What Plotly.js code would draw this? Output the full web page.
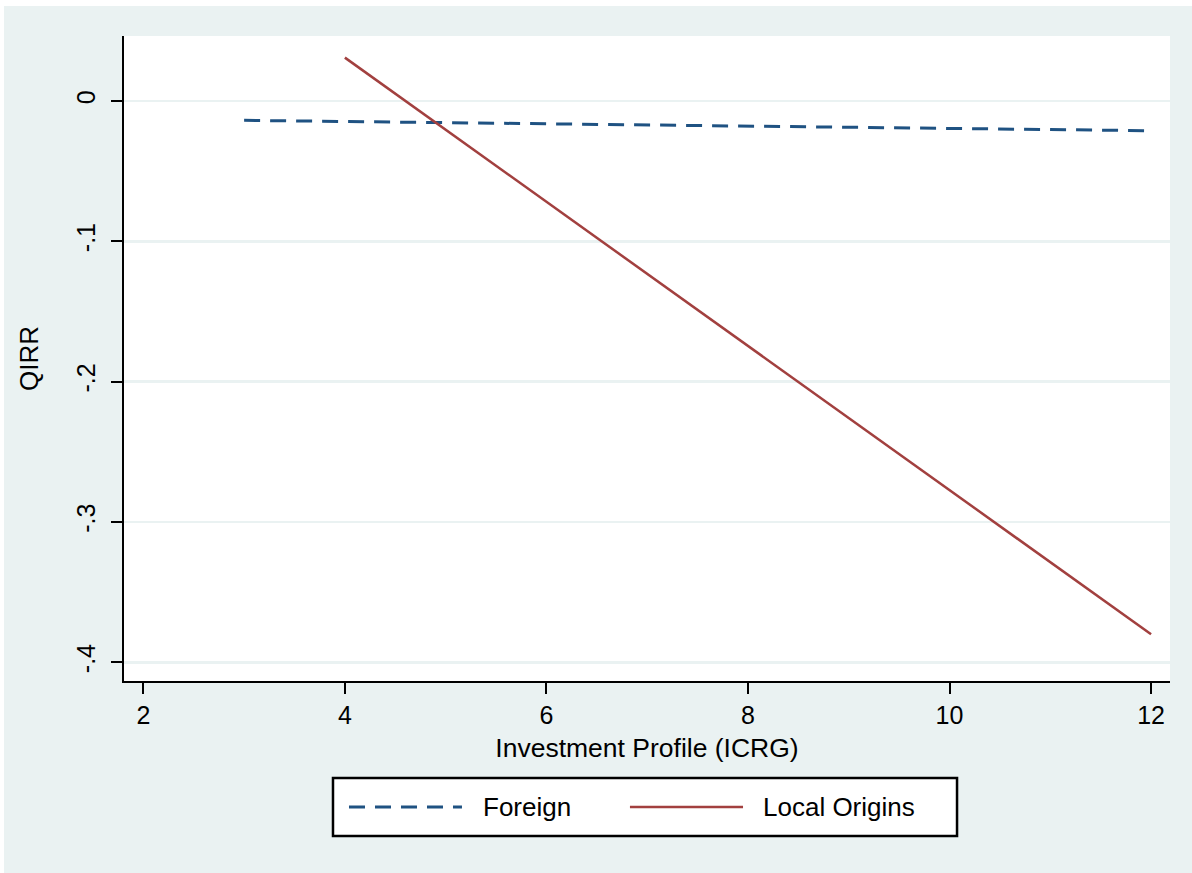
<!DOCTYPE html>
<html>
<head>
<meta charset="utf-8">
<script src="https://cdn.plot.ly/plotly-3.0.1.min.js"></script>
<style>
  html, body { margin: 0; padding: 0; background: #ffffff; width: 1192px; height: 873px; overflow: hidden; }
  #chart { position: absolute; left: 4px; top: 6px; width: 1188px; height: 867px; }
</style>
</head>
<body>
<div id="chart"></div>
<script>
// Data
const seriesNames = ["Foreign", "Local Origins"];
const foreignX = [3, 12];
const foreignY = [-0.0138, -0.0212];
const localX = [4, 12];
const localY = [0.0309, -0.380];

const xTickVals = [2, 4, 6, 8, 10, 12];
const xTickText = ["2", "4", "6", "8", "10", "12"];
const yTickVals = [0, -0.1, -0.2, -0.3, -0.4];
const yTickText = ["0", "-.1", "-.2", "-.3", "-.4"];

const xTitle = "Investment Profile (ICRG)";
const yTitle = "QIRR";

const colForeign = "#1f5282";
const colLocal = "#a2403f";
const bg = "#eaf2f2";
const FONT = "Liberation Sans, Arial, Helvetica, sans-serif";

const traces = [
  { x: foreignX, y: foreignY, type: "scatter", mode: "lines", name: seriesNames[0],
    line: { color: colForeign, width: 3, dash: "16px,10px" }, showlegend: false, hoverinfo: "skip" },
  { x: localX, y: localY, type: "scatter", mode: "lines", name: seriesNames[1],
    line: { color: colLocal, width: 2.5 }, showlegend: false, hoverinfo: "skip" }
];

// custom legend in paper coordinates
const shapes = [
  { type: "rect", xref: "paper", yref: "paper", x0: 0.1998, x1: 0.7964, y0: -0.2403, y1: -0.1504,
    fillcolor: "#ffffff", line: { color: "#000000", width: 2.5 } },
  { type: "line", xref: "paper", yref: "paper", x0: 0.2151, x1: 0.3231, y0: -0.1953, y1: -0.1953,
    line: { color: colForeign, width: 3, dash: "16px,10px" } },
  { type: "line", xref: "paper", yref: "paper", x0: 0.4837, x1: 0.5918, y0: -0.1953, y1: -0.1953,
    line: { color: colLocal, width: 2.5 } }
];
const annotations = [
  { xref: "paper", yref: "paper", x: 0.3413, y: -0.1953, xanchor: "left", yanchor: "middle",
    text: seriesNames[0], showarrow: false, font: { family: FONT, size: 26, color: "#000" } },
  { xref: "paper", yref: "paper", x: 0.6090, y: -0.1953, xanchor: "left", yanchor: "middle",
    text: seriesNames[1], showarrow: false, font: { family: FONT, size: 26, color: "#000" } }
];

const layout = {
  width: 1188, height: 867,
  paper_bgcolor: bg, plot_bgcolor: "#ffffff",
  margin: { l: 120, r: 22, t: 30, b: 192 },
  showlegend: false,
  font: { family: FONT, color: "#000" },
  xaxis: {
    range: [1.808, 12.188], tickvals: xTickVals, ticktext: xTickText,
    showgrid: false, zeroline: false, showline: true, linecolor: "#000", linewidth: 2,
    ticks: "outside", ticklen: 11, tickwidth: 2, tickcolor: "#000",
    tickfont: { family: FONT, size: 25, color: "#000" },
    title: { text: xTitle, font: { family: FONT, size: 26.5, color: "#000" }, standoff: 10 }
  },
  yaxis: {
    range: [-0.4133, 0.0463], tickvals: yTickVals, ticktext: yTickText, tickangle: -90,
    showgrid: true, gridcolor: bg, gridwidth: 2.5, zeroline: false,
    showline: true, linecolor: "#000", linewidth: 2,
    ticks: "outside", ticklen: 11, tickwidth: 2, tickcolor: "#000", ticklabelstandoff: 6,
    tickfont: { family: FONT, size: 25, color: "#000" },
    title: { text: yTitle, font: { family: FONT, size: 26, color: "#000" }, standoff: 26 }
  },
  shapes: shapes,
  annotations: annotations
};

Plotly.newPlot("chart", traces, layout, { displayModeBar: false, staticPlot: true });
</script>
</body>
</html>
